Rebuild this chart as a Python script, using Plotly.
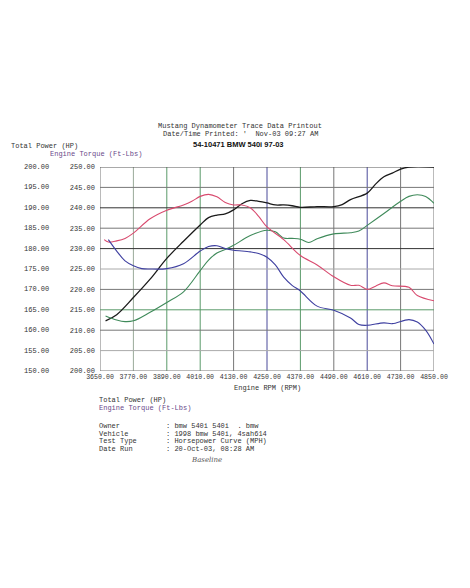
import plotly.graph_objects as go

rpm_black = [3670,3710,3770,3830,3890,3950,4010,4040,4070,4100,4130,4160,4190,4220,4250,4280,4310,4340,4370,4430,4490,4520,4550,4610,4640,4670,4700,4730,4760,4850]
hp_black = [162.3,163.8,168.0,172.5,177.6,181.8,185.8,187.6,188.2,188.5,189.5,191.0,191.8,191.6,191.2,190.7,190.7,190.5,190.1,190.3,190.3,190.8,192.0,193.6,195.8,197.6,198.5,199.5,200.0,200.0]

rpm_green = [3670,3710,3740,3770,3830,3890,3950,4010,4040,4070,4100,4130,4190,4250,4280,4310,4340,4370,4400,4430,4490,4550,4580,4610,4670,4730,4760,4790,4820,4850]
hp_green = [163.5,162.5,162.1,162.3,164.4,166.8,169.4,174.6,177.2,178.9,179.8,180.8,183.2,184.5,184.1,182.6,182.5,182.3,181.5,182.4,183.6,183.9,184.3,185.7,188.6,191.6,192.8,193.2,192.8,191.1]

rpm_red = [3665,3680,3710,3740,3770,3830,3890,3950,3980,4010,4040,4070,4100,4130,4160,4190,4220,4250,4310,4370,4430,4490,4550,4580,4610,4640,4670,4700,4760,4790,4850]
tq_red = [232.2,231.6,231.9,232.5,233.8,237.3,239.4,240.7,241.6,242.8,243.3,242.7,241.3,240.7,240.7,240.0,237.9,235.3,232.2,228.3,226.0,223.1,221.0,221.0,220.0,220.8,221.6,220.9,220.5,218.5,217.2]

rpm_blue = [3680,3710,3740,3770,3800,3830,3890,3950,4010,4040,4070,4100,4130,4190,4220,4250,4280,4310,4340,4370,4430,4490,4550,4580,4610,4670,4700,4760,4790,4820,4850]
tq_blue = [232.2,229.4,227.0,225.8,225.1,225.0,225.1,226.3,229.4,230.5,230.7,230.0,229.6,229.2,228.8,227.9,226.0,223.0,221.0,219.6,215.9,214.9,213.0,211.4,211.2,211.8,211.6,212.6,212.0,210.0,206.6]

rpm_ticks = [3650 + 120*i for i in range(11)]
hp_ticks = [150 + 5*i for i in range(11)]
tq_ticks = [200 + 5*i for i in range(11)]

MONO = "Liberation Mono"
FS = 7
OFF = 8  # browser body margin
fig = go.Figure()
fig.add_trace(go.Scatter(x=rpm_black, y=hp_black, mode="lines", line=dict(color="#1a1a1a", width=1.3, shape="spline")))
fig.add_trace(go.Scatter(x=rpm_green, y=hp_green, mode="lines", line=dict(color="#3f8a5a", width=1.1, shape="spline")))
fig.add_trace(go.Scatter(x=rpm_red, y=tq_red, yaxis="y2", mode="lines", line=dict(color="#d84a6e", width=1.1, shape="spline")))
fig.add_trace(go.Scatter(x=rpm_blue, y=tq_blue, yaxis="y2", mode="lines", line=dict(color="#3e3fa0", width=1.1, shape="spline")))

vcols = ["#777777", "#9aaa9a", "#5a9a6a", "#5a9a6a", "#777777", "#4a4a9a", "#5a9a6a", "#777777", "#4a4a9a", "#777777", "#777777"]
for i, r in enumerate(rpm_ticks):
    fig.add_shape(type="line", x0=r, x1=r, y0=0, y1=1, xref="x", yref="paper", line=dict(color=vcols[i], width=1), layer="below")
hcols = ["#777777", "#aaaaaa", "#777777", "#5a9a6a", "#777777", "#aaaaaa", "#333333", "#777777", "#333333", "#777777", "#555555"]
for i, h in enumerate(hp_ticks):
    fig.add_shape(type="line", x0=0, x1=1, y0=h, y1=h, xref="paper", yref="y", line=dict(color=hcols[i], width=1), layer="below")

fig.update_layout(
    width=470, height=588, showlegend=False,
    paper_bgcolor="white", plot_bgcolor="white",
    margin=dict(l=100 - OFF, r=36 + OFF, t=167 - OFF, b=217 + OFF, autoexpand=False),
    font=dict(family=MONO, size=FS, color="#333333"),
    xaxis=dict(range=[3650, 4850], tickvals=rpm_ticks, ticktext=[f"{v:.2f}" for v in rpm_ticks],
               showgrid=False, zeroline=False, ticks="", tickangle=0, automargin=False,
               tickfont=dict(size=6.6, family=MONO, color="#333")),
    yaxis=dict(range=[150, 200], tickvals=hp_ticks, ticktext=[f"{v:.2f}" for v in hp_ticks],
               showgrid=False, zeroline=False, showticklabels=False, automargin=False),
    yaxis2=dict(range=[200, 250], overlaying="y", side="left", tickvals=tq_ticks, automargin=False,
                ticktext=[f"{v:.2f}" for v in tq_ticks], showgrid=False, zeroline=False,
                tickfont=dict(size=FS, family=MONO, color="#333"), ticklabelstandoff=4),
)

def py(p):
    return (371 - p) / 204

for h in hp_ticks:
    fig.add_annotation(x=-0.148, y=h, xref="paper", yref="y", text=f"{h:.2f}", showarrow=False,
                       xanchor="right", font=dict(size=FS, family=MONO, color="#333"))

def txt(x, y, s, size=FS, color="#333", anchor="left", family=MONO):
    fig.add_annotation(x=(x - 100) / 334, y=py(y), xref="paper", yref="paper", text=s, showarrow=False,
                       xanchor=anchor, yanchor="middle", borderpad=0, font=dict(size=size, family=family, color=color))

txt(240, 126, "Mustang Dynamometer Trace Data Printout", anchor="center")
txt(240, 134, "Date/Time Printed: '  Nov-03 09:27 AM", anchor="center")
txt(238, 144, "<b>54-10471 BMW 540i 97-03</b>", size=7.5, color="#111", anchor="center", family="Liberation Sans Narrow, Liberation Sans")
txt(10, 146, "Total Power (HP)")
txt(49, 154, "Engine Torque (Ft-Lbs)", color="#6a4a8a")
txt(267, 388, "Engine RPM (RPM)", anchor="center")
txt(98, 400, "Total Power (HP)")
txt(98, 408, "Engine Torque (Ft-Lbs)", color="#6a4a8a")
labels = ["Owner", "Vehicle", "Test Type", "Date Run"]
vals = [": bmw 540i 540i  . bmw", ": 1998 bmw 540i, 4sah614", ": Horsepower Curve (MPH)", ": 20-Oct-03, 08:28 AM"]
for i, (l, v) in enumerate(zip(labels, vals)):
    txt(98, 426 + 7.5 * i, l)
    txt(165, 426 + 7.5 * i, v)
fig.add_annotation(x=(190 - 100) / 334, y=py(465), xref="paper", yref="paper", text="<i>Baseline</i>", showarrow=False,
                   borderpad=0, font=dict(size=7, family="DejaVu Serif", color="#555"))

fig.write_html("out.html")
